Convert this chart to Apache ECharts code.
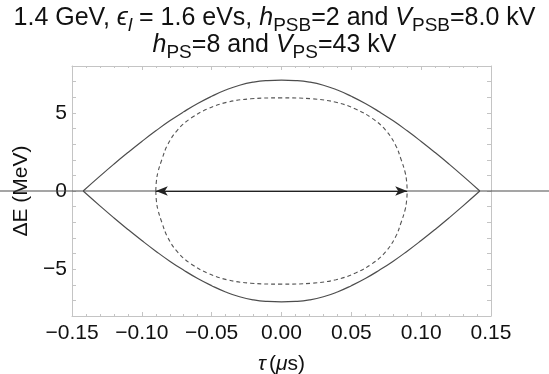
<!DOCTYPE html>
<html>
<head>
<meta charset="utf-8">
<script src="https://cdn.jsdelivr.net/npm/echarts@6/dist/echarts.min.js"></script>
<style>html,body{margin:0;padding:0;background:#fff;}#c{width:549px;height:374px;}</style>
</head>
<body>
<div id="c"></div>
<script>
// separatrix (solid)
const sepTau   = [-0.142,-0.13,-0.12,-0.11,-0.10,-0.09,-0.08,-0.07,-0.06,-0.05,-0.04,-0.03,-0.02,-0.01,0,0.01,0.02,0.03,0.04,0.05,0.06,0.07,0.08,0.09,0.10,0.11,0.12,0.13,0.142];
const sepUpper = [0,0.95,1.72,2.46,3.17,3.85,4.49,5.07,5.6,6.06,6.46,6.77,6.97,7.07,7.1,7.07,6.97,6.77,6.46,6.06,5.6,5.07,4.49,3.85,3.17,2.46,1.72,0.95,0];
const sepLower = [0,-0.95,-1.72,-2.46,-3.17,-3.85,-4.49,-5.07,-5.6,-6.06,-6.46,-6.77,-6.97,-7.07,-7.1,-7.07,-6.97,-6.77,-6.46,-6.06,-5.6,-5.07,-4.49,-3.85,-3.17,-2.46,-1.72,-0.95,0];
// inner trajectory (dashed)
const innerTau   = [-0.09,-0.0896,-0.0885,-0.0857,-0.0816,-0.0745,-0.065,-0.053,-0.039,-0.022,0,0.022,0.039,0.053,0.065,0.0745,0.0816,0.0857,0.0885,0.0896,0.09];
const innerUpper = [0,0.6,1.2,2.0,2.95,3.9,4.65,5.25,5.68,5.9,5.96,5.9,5.68,5.25,4.65,3.9,2.95,2.0,1.2,0.6,0];
const innerLower = [0,-0.6,-1.2,-2.0,-2.95,-3.9,-4.65,-5.25,-5.68,-5.9,-5.96,-5.9,-5.68,-5.25,-4.65,-3.9,-2.95,-2.0,-1.2,-0.6,0];
// horizontal line across the whole figure, and arrow span
const fullSpan = [-1, 1];
const arrowTau = [-0.09, 0.09];
// axes
const xMin = -0.15, xMax = 0.15, xStep = 0.05;
const yMin = -8, yMax = 8, yStep = 1, yLabelEvery = 5;

const zip = (a, b) => a.map((v, i) => [v, b[i]]);
const FONT = 'Liberation Sans';
const lineCol = '#4d4d4d';
const frameCol = '#c4c4c4';

const fmtX = v => Math.abs(v) < 1e-9 ? '0.00' : (v < 0 ? '\u2212' : '') + Math.abs(v).toFixed(2);
const fmtY = v => { const r = Math.round(v); if (r % yLabelEvery !== 0) return ''; return r === 0 ? '0' : (r < 0 ? '\u2212' : '') + Math.abs(r); };

const baseAxis = {
  axisLine: { show: true, onZero: false, lineStyle: { color: frameCol, width: 1 } },
  axisTick: { show: true, inside: true, length: 4, lineStyle: { color: frameCol } },
  minorTick: { show: true, splitNumber: 5, length: 2, lineStyle: { color: frameCol } },
  splitLine: { show: false },
  minorSplitLine: { show: false }
};

const chart = echarts.init(document.getElementById('c'), null, { renderer: 'canvas' });
const T = 27;
const txt = (extra) => Object.assign({ fontFamily: FONT, fontSize: 25, fontWeight: 'normal', color: '#111', lineHeight: T, verticalAlign: 'middle' }, extra);
chart.setOption({
  animation: false,
  backgroundColor: '#fff',
  textStyle: { fontFamily: FONT },
  title: {
    left: 'center', top: 0,
    text: '{n|1.4 GeV, }{i|\u03f5}{si|l}{n| = 1.6 eVs, }{i|h}{s|PSB}{n|=2 and }{i|V}{s|PSB}{n|=8.0 kV}\n{i|h}{s|PS}{n|=8 and }{i|V}{s|PS}{n|=43 kV}',
    textStyle: {
      fontWeight: 'normal',
      rich: {
        n: txt({}),
        i: txt({ fontStyle: 'italic' }),
        s: txt({ fontSize: 19, padding: [14, 0, 0, 0] }),
        si: txt({ fontSize: 19, fontStyle: 'italic', padding: [14, 0, 0, 0] })
      }
    }
  },
  grid: [
    { left: 72, right: 58, top: 66, bottom: 58, containLabel: false, outerBoundsMode: 'none' },
    { left: 0, right: 0, top: 66, bottom: 58, containLabel: false, outerBoundsMode: 'none' }
  ],
  xAxis: [
    Object.assign({}, baseAxis, {
      type: 'value', min: xMin, max: xMax, interval: xStep, position: 'bottom', gridIndex: 0,
      name: '{i|\u03c4} {n|(}{i|\u03bc}{n|s)}', nameLocation: 'middle', nameGap: 38,
      nameTextStyle: { rich: {
        n: { fontFamily: FONT, fontSize: 21, color: '#111' },
        i: { fontFamily: FONT, fontSize: 21, color: '#111', fontStyle: 'italic' } } },
      axisLabel: { show: true, margin: 7, fontFamily: FONT, fontSize: 21, color: '#111', formatter: fmtX, showMinLabel: true, showMaxLabel: true }
    }),
    Object.assign({}, baseAxis, {
      type: 'value', min: xMin, max: xMax, interval: xStep, position: 'top', gridIndex: 0,
      axisLabel: { show: false }
    }),
    { type: 'value', gridIndex: 1, min: fullSpan[0], max: fullSpan[1], show: false }
  ],
  yAxis: [
    Object.assign({}, baseAxis, {
      type: 'value', min: yMin, max: yMax, interval: yStep, position: 'left', gridIndex: 0,
      minorTick: { show: false },
      name: '\u0394E (MeV)', nameLocation: 'middle', nameGap: 40,
      nameTextStyle: { fontFamily: FONT, fontSize: 21, color: '#111' },
      axisLabel: { show: true, margin: 5, fontFamily: FONT, fontSize: 21, color: '#111', formatter: fmtY }
    }),
    Object.assign({}, baseAxis, {
      type: 'value', min: yMin, max: yMax, interval: yStep, position: 'right', gridIndex: 0,
      minorTick: { show: false },
      axisLabel: { show: false }
    }),
    { type: 'value', gridIndex: 1, min: yMin, max: yMax, show: false }
  ],
  series: [
    { type: 'line', xAxisIndex: 2, yAxisIndex: 2, data: fullSpan.map(t => [t, 0]), showSymbol: false,
      lineStyle: { color: lineCol, width: 1.2 }, silent: true, z: 1 },
    { type: 'line', data: zip(sepTau, sepUpper), showSymbol: false, smooth: true,
      lineStyle: { color: lineCol, width: 1.2 }, silent: true },
    { type: 'line', data: zip(sepTau, sepLower), showSymbol: false, smooth: true,
      lineStyle: { color: lineCol, width: 1.2 }, silent: true },
    { type: 'line', data: zip(innerTau, innerUpper), showSymbol: false, smooth: 0.4,
      lineStyle: { color: '#555', width: 1.1, type: [4, 3] }, silent: true },
    { type: 'line', data: zip(innerTau, innerLower), showSymbol: false, smooth: 0.4,
      lineStyle: { color: '#555', width: 1.1, type: [4, 3] }, silent: true },
    { type: 'line', data: [], showSymbol: false, silent: true,
      markLine: {
        silent: true, animation: false,
        symbol: ['arrow', 'arrow'], symbolSize: [7, 12],
        label: { show: false },
        lineStyle: { color: '#222', width: 1.2, type: 'solid' },
        data: [[{ coord: [arrowTau[0], 0] }, { coord: [arrowTau[1], 0] }]]
      }
    }
  ]
});
</script>
</body>
</html>
